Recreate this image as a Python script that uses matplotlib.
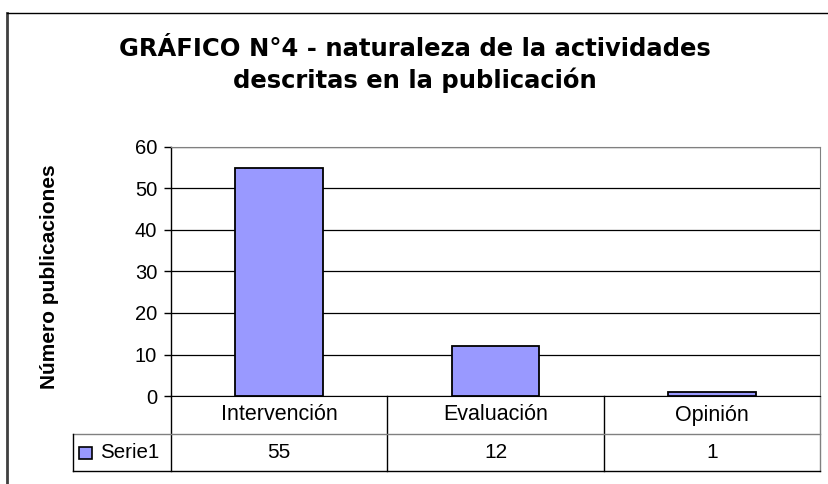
import matplotlib
matplotlib.use("Agg")
import matplotlib.pyplot as plt
from matplotlib.lines import Line2D
from matplotlib.patches import Rectangle
import matplotlib.transforms as mtransforms

categories = ["Intervención", "Evaluación", "Opinión"]
serie1 = [55, 12, 1]
series_name = "Serie1"
title = "GRÁFICO N°4 - naturaleza de la actividades\ndescritas en la publicación"
ylabel = "Número publicaciones"
yticks = [0, 10, 20, 30, 40, 50, 60]

bar_color = "#9999FF"
plt.rcParams["font.family"] = ["Liberation Sans", "DejaVu Sans"]

W, H = 829, 484
fig = plt.figure(figsize=(W / 100, H / 100), dpi=100)

# outer chart frame (only left and top visible)
fig.add_artist(Line2D([7.5 / W, 7.5 / W], [0, 1 - 13 / H], color="#404040", lw=2))
fig.add_artist(Line2D([7 / W, 1], [1 - 13 / H, 1 - 13 / H], color="black", lw=1))

x0, x1 = 171 / W, 820 / W
y0, y1 = 1 - 396 / H, 1 - 147 / H
ax = fig.add_axes([x0, y0, x1 - x0, y1 - y0])

x = list(range(len(categories)))
ax.bar(x, serie1, width=0.405, color=bar_color, edgecolor="black", linewidth=1.3, zorder=3)
ax.set_xlim(-0.5, len(categories) - 0.5)
ax.set_ylim(0, 60)
ax.set_yticks(yticks)
ax.tick_params(axis="y", direction="out", length=5, width=1, labelsize=14.5, pad=5)
ax.set_xticks([])
ax.yaxis.grid(True, color="black", linewidth=0.9, zorder=0)

for s in ["top", "right"]:
    ax.spines[s].set_color("#808080")
ax.spines["left"].set_color("black")
ax.spines["bottom"].set_color("black")
ax.spines["left"].set_linewidth(1)

ax.set_ylabel(ylabel, fontsize=15, fontweight="bold")
ax.yaxis.set_label_coords(-0.172, 0.48)

# title: second line baseline at ~88 px from the top
fig.text(0.5, 1 - 88 / H, title, ha="center", va="baseline", family="DejaVu Sans",
         fontsize=17.5, fontweight="bold", linespacing=1.3)

# data table below the axis
ax_h = 396 - 147
r1 = -(434 - 396) / ax_h
r2 = -(471 - 396) / ax_h
leg_left = -(171 - 73) / 649
trans = mtransforms.blended_transform_factory(ax.transData, ax.transAxes)
ta = ax.transAxes

def hline(xa, xb, y, color="black", tr=ta):
    ax.add_line(Line2D([xa, xb], [y, y], transform=tr, color=color, lw=1, clip_on=False))

def vline(xv, ya, yb, color="black", tr=ta):
    ax.add_line(Line2D([xv, xv], [ya, yb], transform=tr, color=color, lw=1, clip_on=False))

vline(0, r2, 0)
vline(1, r2, 0, color="#808080")
for i in range(1, len(categories)):
    vline(i - 0.5, r2, 0, tr=trans)
hline(leg_left, 1, r1, color="#808080")
hline(leg_left, 1, r2)
vline(leg_left, r2, r1)

for i, (c, v) in enumerate(zip(categories, serie1)):
    ax.text(i, (0 + r1) / 2, c, transform=trans, ha="center", va="center", fontsize=15.5)
    ax.text(i, (r1 + r2) / 2, str(v), transform=trans, ha="center", va="center", fontsize=15)

ax.add_patch(Rectangle((leg_left + 6 / 649, (r1 + r2) / 2 - 6 / ax_h), 13 / 649, 12 / ax_h,
                       transform=ta, facecolor=bar_color, edgecolor="black", lw=1.2, clip_on=False))
ax.text(leg_left + 27 / 649, (r1 + r2) / 2, series_name, transform=ta, ha="left", va="center",
        fontsize=14.8)

fig.savefig("out.png", dpi=100)
